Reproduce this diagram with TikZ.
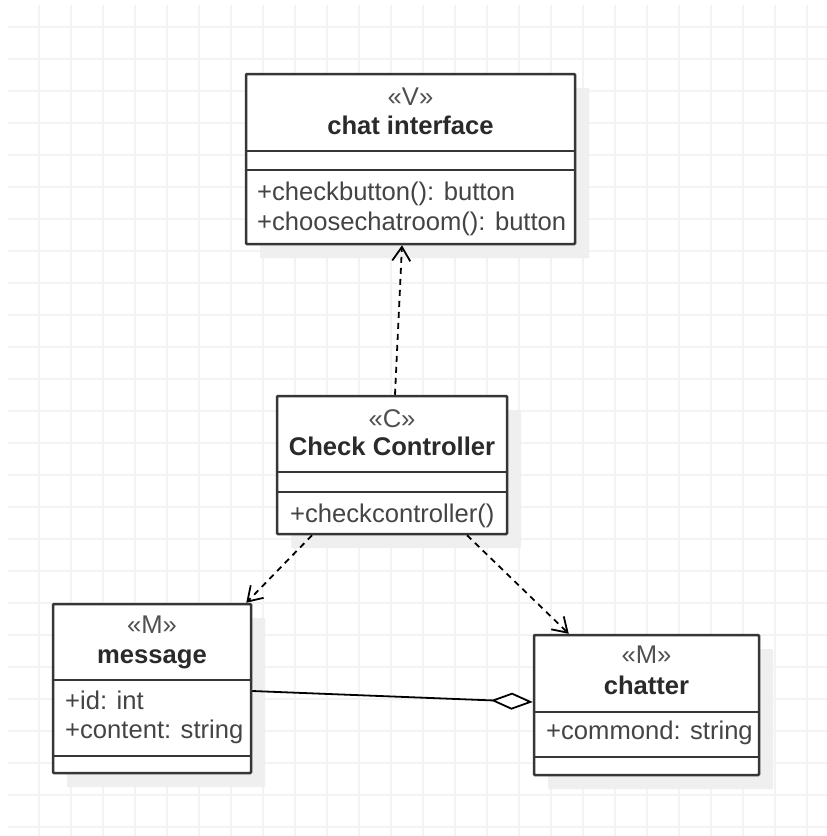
\documentclass[tikz,border=0pt]{standalone}
\usepackage{fontspec}
\setmainfont{Liberation Sans}
\usetikzlibrary{arrows.meta,shadows,calc}

\definecolor{gridc}{HTML}{F3F3F3}
\definecolor{edge}{HTML}{363636}
\definecolor{ink}{HTML}{2A2A2A}
\definecolor{soft}{HTML}{505050}
\definecolor{shade}{HTML}{EFEFEF}

\tikzset{
  gridline/.style={draw=gridc, line width=1.8pt},
  umlclass/.style={draw=edge, fill=white, line width=2.5pt, rounded corners=1pt,
    inner sep=0pt,
    general shadow={shadow xshift=14pt, shadow yshift=-14pt, fill=shade, opacity=1}},
  divider/.style={draw=edge, line width=2.5pt},
  stereo/.style={anchor=base, inner sep=0pt, text=soft,
    font=\fontsize{25.6}{30}\selectfont},
  title/.style={anchor=base, inner sep=0pt, text=ink,
    font=\fontsize{25.6}{30}\selectfont\bfseries},
  member/.style={anchor=base west, inner sep=0pt, text=ink!88!white,
    font=\fontsize{25.6}{30}\selectfont},
  depends/.style={draw=black, line width=1.8pt, dash pattern=on 6pt off 5pt,
    -{Straight Barb[length=14pt, width=18pt, line width=1.8pt]}},
  aggregates/.style={draw=black, line width=1.8pt,
    -{Diamond[open, length=42pt, width=17pt, line width=1.8pt, fill=white]}},
}

\begin{document}
\begin{tikzpicture}[x=1pt, y=-1pt]
  \useasboundingbox (0,0) rectangle (827,836);
  \fill[white] (0,0) rectangle (827,836);

  % background grid
  \foreach \gx in {39,71,...,807} \draw[gridline] (\gx,5) -- (\gx,836);
  \foreach \gy in {27,59,...,827} \draw[gridline] (8,\gy) -- (827,\gy);

  % class boxes
  \node[umlclass, minimum width=329pt, minimum height=170pt] (view) at (410.5,159) {};
  \node[umlclass, minimum width=230pt, minimum height=138pt] (ctrl) at (392,465) {};
  \node[umlclass, minimum width=198pt, minimum height=169pt] (msg)  at (152,688.5) {};
  \node[umlclass, minimum width=225pt, minimum height=140pt] (chat) at (646.5,705) {};

  % compartment dividers
  \draw[divider] (view.west |- 0,151) -- (view.east |- 0,151);
  \draw[divider] (view.west |- 0,170) -- (view.east |- 0,170);
  \draw[divider] (ctrl.west |- 0,472) -- (ctrl.east |- 0,472);
  \draw[divider] (ctrl.west |- 0,492) -- (ctrl.east |- 0,492);
  \draw[divider] (msg.west |- 0,680) -- (msg.east |- 0,680);
  \draw[divider] (msg.west |- 0,756) -- (msg.east |- 0,756);
  \draw[divider] (chat.west |- 0,712) -- (chat.east |- 0,712);
  \draw[divider] (chat.west |- 0,757) -- (chat.east |- 0,757);

  % chat interface
  \node[stereo] (viewst) at (410.5,105) {«V»};
  \node[title]  (viewtt) at (410.5,134) {chat interface};
  \node[member] (viewm1) at (257,200) {+checkbutton(): button};
  \node[member] (viewm2) at (257,230) {+choosechatroom(): button};

  % Check Controller
  \node[stereo] (ctrlst) at (392,427) {«C»};
  \node[title]  (ctrltt) at (392,455) {Check Controller};
  \node[member] (ctrlm1) at (290,522) {+checkcontroller()};

  % message
  \node[stereo] (msgst) at (152,633) {«M»};
  \node[title]  (msgtt) at (152,663) {message};
  \node[member] (msgm1) at (65,709) {+id: int};
  \node[member] (msgm2) at (65,738) {+content: string};

  % chatter
  \node[stereo] (chatst) at (646.5,663) {«M»};
  \node[title]  (chattt) at (646.5,694) {chatter};
  \node[member] (chatm1) at (546,739) {+commond: string};

  % relations
  \draw[depends] ([xshift=3pt]ctrl.north) -- ([xshift=-8.5pt]view.south);
  \draw[depends] ([xshift=-80pt]ctrl.south) -- ([xshift=-6pt]msg.north east);
  \draw[depends] ([xshift=75pt]ctrl.south) -- ([xshift=36pt]chat.north west);
  \draw[aggregates] ([yshift=-2.5pt]msg.east) -- ([yshift=3pt]chat.west);
\end{tikzpicture}
\end{document}
